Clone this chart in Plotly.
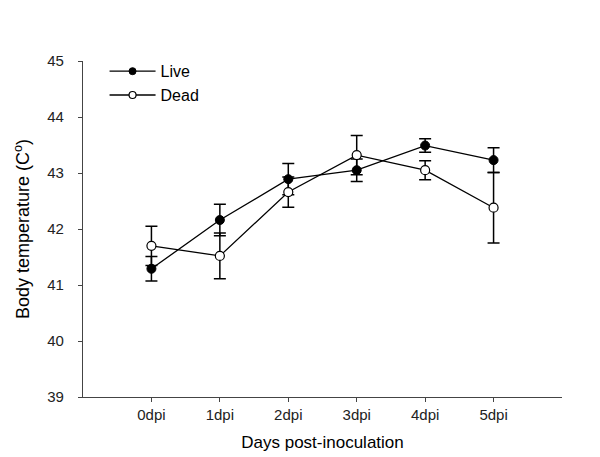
import plotly.graph_objects as go

days = ["0dpi", "1dpi", "2dpi", "3dpi", "4dpi", "5dpi"]
x_pos = [0, 1, 2, 3, 4, 5]
live_mean = [41.29, 42.16, 42.89, 43.05, 43.49, 43.23]
live_err = [0.22, 0.28, 0.28, 0.20, 0.12, 0.22]
dead_mean = [41.70, 41.52, 42.66, 43.32, 43.05, 42.38]
dead_err = [0.35, 0.41, 0.27, 0.35, 0.17, 0.63]
y_ticks = [39, 40, 41, 42, 43, 44, 45]

FONT = "Arial, Liberation Sans, sans-serif"

fig = go.Figure()
fig.add_trace(go.Scatter(
    x=x_pos, y=live_mean, name="Live", mode="lines+markers", showlegend=False,
    line=dict(color="black", width=1.3),
    marker=dict(symbol="circle", size=9, color="black", line=dict(color="black", width=1)),
    error_y=dict(type="data", array=live_err, visible=True, color="black", thickness=1.5, width=6),
))
fig.add_trace(go.Scatter(
    x=x_pos, y=dead_mean, name="Dead", mode="lines+markers", showlegend=False,
    line=dict(color="black", width=1.3),
    marker=dict(symbol="circle", size=9, color="white", line=dict(color="black", width=1.2)),
    error_y=dict(type="data", array=dead_err, visible=True, color="black", thickness=1.5, width=6),
))
# legend entries (smaller symbols, as in the reference legend)
fig.add_trace(go.Scatter(
    x=[None], y=[None], name="Live", mode="lines+markers", legendgroup="a",
    line=dict(color="black", width=1.3),
    marker=dict(symbol="circle", size=7, color="black", line=dict(color="black", width=1)),
))
fig.add_trace(go.Scatter(
    x=[None], y=[None], name="Dead", mode="lines+markers", legendgroup="b",
    line=dict(color="black", width=1.3),
    marker=dict(symbol="circle", size=7, color="white", line=dict(color="black", width=1.2)),
))

fig.update_layout(
    width=600, height=457,
    margin=dict(l=75, r=46, t=53, b=68),
    paper_bgcolor="white", plot_bgcolor="white",
    font=dict(family=FONT, color="black"),
    showlegend=True,
    legend=dict(x=0.045, y=1.02, xanchor="left", yanchor="top",
                font=dict(family=FONT, size=16, color="black"),
                bgcolor="rgba(0,0,0,0)", tracegroupgap=0, itemwidth=46),
    xaxis=dict(
        range=[-1, 6], tickmode="array", tickvals=x_pos, ticktext=days,
        showgrid=False, zeroline=False, showline=True, linecolor="#444", linewidth=1.2,
        ticks="outside", ticklen=4, tickcolor="#444", ticklabelstandoff=0,
        tickfont=dict(size=15, color="#222", family=FONT),
        title=dict(text="Days post-inoculation", font=dict(size=17, family=FONT), standoff=14),
    ),
    yaxis=dict(
        range=[39, 45], tickmode="array", tickvals=y_ticks,
        showgrid=False, zeroline=False, showline=True, linecolor="#444", linewidth=1.2,
        ticks="outside", ticklen=4, tickcolor="#444", ticklabelstandoff=11,
        tickfont=dict(size=15, color="#222", family=FONT),
        title=dict(text="Body temperature (C<sup>o</sup>)", font=dict(size=18, family=FONT), standoff=12),
    ),
)

fig.write_html("out.html")
